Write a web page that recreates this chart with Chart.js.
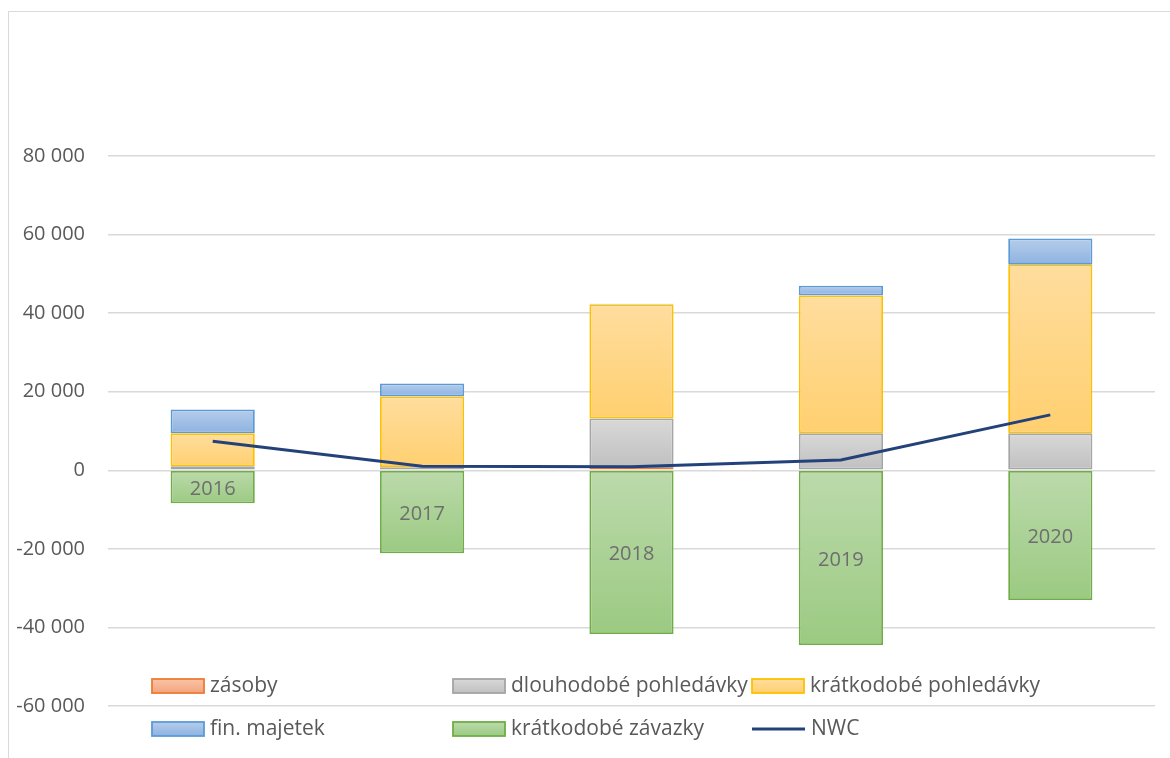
<!DOCTYPE html>
<html>
<head>
<meta charset="utf-8">
<script src="https://cdn.jsdelivr.net/npm/chart.js@4"></script>
<style>
  html, body { margin: 0; padding: 0; background: #fff; }
  #wrap { width: 1170px; height: 758px; }
</style>
</head>
<body>
<div id="wrap"><canvas id="graf" width="1170" height="758"></canvas></div>
<script>
// roky
const roky = ['2016', '2017', '2018', '2019', '2020'];

// hodnoty
const zasoby = [0, 0, 600, 0, 0];
const dlouhodobePohl = [1000, 800, 12600, 9400, 9400];
const kratkodobePohl = [8400, 18000, 29000, 35100, 42900];
const finMajetek = [6100, 3300, 200, 2500, 6700];
const kratkodobeZavazky = [-8400, -21100, -41700, -44500, -33000];
const nwc = [7400, 1000, 900, 2600, 14100];

// osa y
const osaMin = -60000;
const osaMax = 80000;
const osaKrok = 20000;

const pismo = '"Open Sans", "Noto Sans", sans-serif';
const sedaText = '#595959';

// barvy: okraj, gradient nahoře, gradient dole
const barvy = {
    zasoby: ['#ED7D31', '#F9C4A8', '#F4A47E'],
    dlouh: ['#A5A5A5', '#D8D8D8', '#C0C0C0'],
    kratk: ['#FFC000', '#FFDD9E', '#FFD070'],
    fin: ['#5B9BD5', '#B6CDEB', '#8DB2E1'],
    zav: ['#70AD47', '#BCDAAB', '#9BCA82']
};

const hodnotyKladne = [zasoby, dlouhodobePohl, kratkodobePohl, finMajetek];

// gradient pro každý sloupec zvlášť (jako v Excelu)
function gradient(klic, idx) {
    return function (context) {
        const chart = context.chart;
        const y = chart.scales.y;
        const b = barvy[klic];
        if (!y || !chart.chartArea || context.dataIndex === undefined) return b[1];
        const i = context.dataIndex;
        let start = 0;
        let konec;
        if (klic === 'zav') {
            konec = kratkodobeZavazky[i];
        } else {
            for (let k = 0; k < idx; k++) start += hodnotyKladne[k][i];
            konec = start + hodnotyKladne[idx][i];
        }
        const y1 = y.getPixelForValue(Math.max(start, konec));
        const y2 = y.getPixelForValue(Math.min(start, konec));
        if (!isFinite(y1) || !isFinite(y2) || y2 - y1 < 1) return b[1];
        const g = chart.ctx.createLinearGradient(0, y1, 0, y2);
        g.addColorStop(0, b[1]);
        g.addColorStop(1, b[2]);
        return g;
    };
}

function sloupec(popis, data, klic, idx) {
    return {
        type: 'bar',
        label: popis,
        klic: klic,
        data: data,
        backgroundColor: gradient(klic, idx),
        borderColor: barvy[klic][0],
        borderWidth: 1.8,
        borderSkipped: false,
        stack: 'a',
        order: 1,
        barPercentage: 1,
        categoryPercentage: 0.402
    };
}

// okraj grafu
const okraj = {
    id: 'okraj',
    beforeDraw(chart) {
        const ctx = chart.ctx;
        ctx.save();
        ctx.strokeStyle = '#D9D9D9';
        ctx.lineWidth = 1;
        ctx.strokeRect(8.5, 11.5, 1200, 800);
        ctx.restore();
    }
};

// popisky roků uprostřed záporného sloupce
const popiskyRoku = {
    id: 'popiskyRoku',
    afterDatasetsDraw(chart) {
        const meta = chart.getDatasetMeta(4);
        const ctx = chart.ctx;
        ctx.save();
        ctx.font = '20px ' + pismo;
        ctx.fillStyle = '#6E6E6E';
        ctx.textAlign = 'center';
        ctx.textBaseline = 'middle';
        meta.data.forEach(function (el, i) {
            ctx.fillText(roky[i], el.x, (el.y + el.base) / 2 + 2);
        });
        ctx.restore();
    }
};

// legenda přes spodní část grafu
const legenda = {
    id: 'legenda',
    afterDraw(chart) {
        const ctx = chart.ctx;
        const sloupce = [152, 453, 752];
        const radky = [686, 729];
        ctx.save();
        ctx.font = '21px ' + pismo;
        ctx.textBaseline = 'middle';
        chart.data.datasets.forEach(function (ds, i) {
            const x = sloupce[i % 3];
            const y = radky[Math.floor(i / 3)];
            if (ds.type === 'line') {
                ctx.strokeStyle = ds.borderColor;
                ctx.lineWidth = 3;
                ctx.beginPath();
                ctx.moveTo(x, y);
                ctx.lineTo(x + 53, y);
                ctx.stroke();
                ctx.fillStyle = sedaText;
                ctx.fillText(ds.label, x + 59, y);
            } else {
                const klic = ds.klic;
                const g = ctx.createLinearGradient(0, y - 7, 0, y + 7);
                g.addColorStop(0, barvy[klic][1]);
                g.addColorStop(1, barvy[klic][2]);
                ctx.fillStyle = g;
                ctx.fillRect(x, y - 7, 52, 14);
                ctx.strokeStyle = barvy[klic][0];
                ctx.lineWidth = 1.8;
                ctx.strokeRect(x, y - 7, 52, 14);
                ctx.fillStyle = sedaText;
                ctx.fillText(ds.label, x + 58, y);
            }
        });
        ctx.restore();
    }
};

const datasety = [
    sloupec('zásoby', zasoby, 'zasoby', 0),
    sloupec('dlouhodobé pohledávky', dlouhodobePohl, 'dlouh', 1),
    sloupec('krátkodobé pohledávky', kratkodobePohl, 'kratk', 2),
    sloupec('fin. majetek', finMajetek, 'fin', 3),
    sloupec('krátkodobé závazky', kratkodobeZavazky, 'zav', 0),
    {
        type: 'line',
        label: 'NWC',
        data: nwc,
        borderColor: '#24427A',
        borderWidth: 3,
        pointRadius: 0,
        tension: 0,
        fill: false,
        order: 0
    }
];

new Chart(document.getElementById('graf'), {
    data: { labels: roky, datasets: datasety },
    options: {
        responsive: false,
        animation: false,
        layout: { padding: { top: 156, left: 8, right: 15, bottom: 52 } },
        plugins: {
            legend: { display: false },
            tooltip: { enabled: false },
            title: { display: false }
        },
        scales: {
            x: {
                display: false,
                stacked: true
            },
            y: {
                stacked: true,
                min: osaMin,
                max: osaMax,
                afterFit: function (scale) { scale.width = 100; },
                border: { display: false },
                grid: { color: '#D9D9D9', lineWidth: 1.5, drawTicks: false },
                ticks: {
                    stepSize: osaKrok,
                    padding: 23,
                    color: sedaText,
                    font: { family: pismo, size: 20 },
                    callback: function (v) {
                        const s = Math.abs(v).toString().replace(/\B(?=(\d{3})+(?!\d))/g, ' ');
                        return (v < 0 ? '-' : '') + s;
                    }
                }
            }
        }
    },
    plugins: [okraj, popiskyRoku, legenda]
});
</script>
</body>
</html>
